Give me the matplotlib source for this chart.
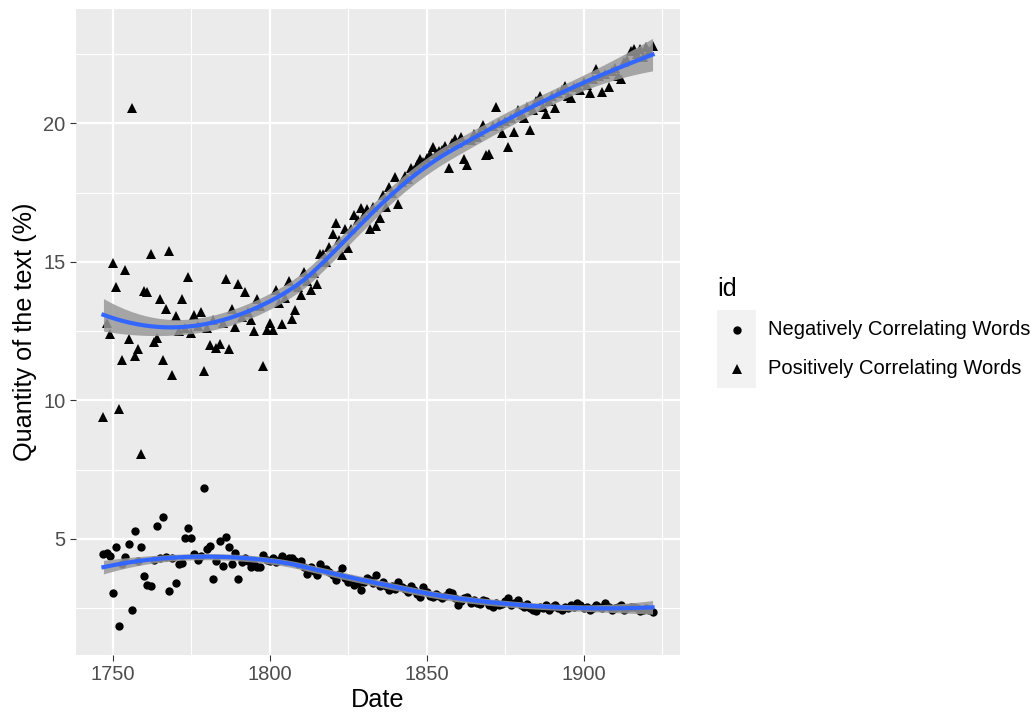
#!/usr/bin/env python3
"""Share of positively and negatively correlating words over time, with loess trends."""

import numpy as np
import matplotlib

matplotlib.use("Agg")
import matplotlib.pyplot as plt
from matplotlib.lines import Line2D
from matplotlib.patches import Rectangle


YEARS = list(range(1747, 1923))

# Positively correlating words, one value per year (1747-1922)
POSITIVE = [
    9.40, 12.80, 12.40, 14.95, 14.10, 9.70, 11.45, 14.70, 12.20, 20.55,
    11.60, 11.85, 8.05, 13.95, 13.90, 15.30, 12.10, 12.25, 13.65, 11.45,
    13.30, 15.40, 10.90, 13.05, 12.50, 13.65, 12.60, 14.45, 12.45, 13.10,
    12.70, 13.20, 11.05, 12.60, 12.00, 12.90, 11.90, 12.05, 12.80, 14.40,
    11.85, 13.30, 12.65, 14.20, 13.00, 13.90, 13.20, 12.90, 12.50, 13.65,
    13.40, 11.25, 12.55, 12.80, 12.55, 14.00, 13.50, 12.75, 13.70, 14.30,
    12.95, 13.25, 14.10, 13.80, 14.65, 14.30, 14.00, 14.60, 14.20, 15.30,
    15.30, 15.00, 15.55, 16.00, 16.40, 15.80, 15.25, 16.20, 15.50, 16.20,
    16.70, 16.50, 16.95, 16.70, 16.90, 16.20, 17.00, 16.30, 16.60, 17.40,
    17.00, 17.70, 17.50, 18.05, 17.10, 17.90, 18.10, 18.00, 18.40, 18.30,
    18.50, 18.70, 18.60, 18.75, 18.90, 19.15, 18.90, 19.00, 19.05, 19.20,
    18.40, 19.30, 19.45, 19.30, 19.50, 18.70, 18.50, 19.40, 19.60, 19.50,
    19.70, 19.95, 18.85, 18.90, 19.90, 20.60, 20.00, 19.65, 20.10, 19.15,
    20.20, 19.70, 20.50, 20.30, 20.20, 20.60, 19.75, 20.50, 20.80, 21.00,
    20.60, 20.35, 20.80, 21.00, 20.55, 21.10, 21.20, 21.35, 21.00, 20.90,
    21.30, 21.30, 21.20, 21.50, 21.40, 21.10, 21.60, 21.95, 21.70, 21.15,
    21.80, 21.30, 21.90, 22.00, 21.70, 21.60, 22.20, 22.30, 22.60, 22.70,
    22.50, 22.70, 22.40, 22.75, 22.60, 22.80,
]

# Negatively correlating words, one value per year (1747-1922)
NEGATIVE = [
    4.45, 4.50, 4.40, 3.05, 4.70, 1.87, 4.10, 4.35, 4.80, 2.45,
    5.30, 4.20, 4.70, 3.65, 3.35, 3.30, 4.25, 5.45, 4.30, 5.80,
    4.35, 3.12, 4.30, 3.42, 4.10, 4.12, 5.05, 5.38, 5.05, 4.47,
    4.25, 4.40, 6.84, 4.65, 4.75, 3.55, 4.20, 4.92, 4.02, 5.07,
    4.72, 4.10, 4.50, 3.55, 4.18, 4.30, 4.20, 4.00, 4.10, 4.00,
    4.00, 4.42, 4.25, 4.20, 4.30, 4.15, 4.25, 4.40, 4.20, 4.30,
    4.30, 4.20, 4.10, 4.20, 4.00, 3.75, 4.00, 3.85, 3.70, 4.10,
    3.90, 3.90, 3.80, 3.70, 3.50, 3.75, 3.95, 3.60, 3.45, 3.55,
    3.35, 3.40, 3.15, 3.45, 3.60, 3.50, 3.40, 3.70, 3.30, 3.45,
    3.30, 3.15, 3.30, 3.20, 3.45, 3.25, 3.20, 3.10, 3.30, 3.15,
    3.00, 2.90, 3.25, 3.10, 2.95, 2.90, 3.00, 2.95, 2.85, 2.95,
    3.10, 3.05, 2.85, 2.60, 2.75, 2.85, 2.90, 2.70, 2.80, 2.70,
    2.65, 2.80, 2.75, 2.60, 2.55, 2.70, 2.60, 2.65, 2.75, 2.85,
    2.60, 2.70, 2.80, 2.60, 2.55, 2.65, 2.50, 2.45, 2.40, 2.55,
    2.50, 2.60, 2.45, 2.55, 2.60, 2.50, 2.45, 2.55, 2.50, 2.60,
    2.55, 2.70, 2.60, 2.50, 2.55, 2.45, 2.50, 2.60, 2.55, 2.50,
    2.70, 2.55, 2.45, 2.50, 2.55, 2.60, 2.45, 2.50, 2.55, 2.55,
    2.50, 2.40, 2.45, 2.50, 2.45, 2.37,
]

SERIES = ["Negatively Correlating Words", "Positively Correlating Words"]
MARKERS = {"Negatively Correlating Words": "o", "Positively Correlating Words": "^"}
X_TICKS = [1750, 1800, 1850, 1900]
Y_TICKS = [5, 10, 15, 20]

PANEL_BG = "#EBEBEB"
SMOOTH_BLUE = "#3366FF"
W, H, DPI = 1034, 712, 150
SMALL_TEXT = 9.7
TITLE_TEXT = 12.1


def loess(x, y, grid, span=0.75):
    """Local quadratic regression (tricube weights) with standard errors."""
    n = len(x)
    q = int(np.floor(n * span))

    def operator_row(x0):
        d = np.abs(x - x0)
        h = np.sort(d)[q - 1]
        u = np.clip(d / h, 0, 1)
        w = (1 - u ** 3) ** 3
        b = np.column_stack([np.ones(n), x - x0, (x - x0) ** 2])
        btw = b.T * w
        return np.linalg.solve(btw @ b, btw)[0]

    L = np.array([operator_row(xi) for xi in x])
    resid = y - L @ y
    m = (np.eye(n) - L).T @ (np.eye(n) - L)
    delta1 = np.trace(m)
    sigma = np.sqrt(resid @ resid / delta1)

    g = np.array([operator_row(x0) for x0 in grid])
    fit = g @ y
    se = sigma * np.sqrt((g ** 2).sum(axis=1))
    return fit, fit - 1.97 * se, fit + 1.97 * se


def px(x, y):
    """Pixel position (from top-left) to figure fraction."""
    return x / W, 1 - y / H


def main():
    plt.rcParams["font.family"] = ["Liberation Sans", "DejaVu Sans"]

    fig = plt.figure(figsize=(W / DPI, H / DPI), dpi=DPI)
    left, top = px(76, 9)
    right, bottom = px(680, 655)
    ax = fig.add_axes([left, bottom, right - left, top - bottom])
    ax.set_facecolor(PANEL_BG)

    years = np.array(YEARS, dtype=float)
    data = {SERIES[0]: np.array(NEGATIVE), SERIES[1]: np.array(POSITIVE)}
    grid = np.linspace(years.min(), years.max(), 80)

    ymin, ymax = np.inf, -np.inf
    for name in SERIES:
        values = data[name]
        size = 4.0 if MARKERS[name] == "o" else 5.2
        ax.plot(years, values, linestyle="none", marker=MARKERS[name],
                markersize=size, color="black", markeredgewidth=0, zorder=2)
        fit, low, high = loess(years, values, grid)
        ax.fill_between(grid, low, high, color="#999999", alpha=0.85,
                        linewidth=0, zorder=3)
        ax.plot(grid, fit, color=SMOOTH_BLUE, linewidth=2.0, zorder=4)
        ymin = min(ymin, values.min(), low.min())
        ymax = max(ymax, values.max(), high.max())

    # ggplot-style 5% expansion of both ranges
    xpad = 0.05 * (years.max() - years.min())
    ypad = 0.05 * (ymax - ymin)
    ax.set_xlim(years.min() - xpad, years.max() + xpad)
    ax.set_ylim(ymin - ypad, ymax + ypad)

    ax.set_xticks(X_TICKS)
    ax.set_yticks(Y_TICKS)
    ax.set_xticks([1775, 1825, 1875, 1925], minor=True)
    ax.set_yticks([2.5, 7.5, 12.5, 17.5, 22.5], minor=True)
    ax.grid(which="major", color="white", linewidth=1.07, zorder=0)
    ax.grid(which="minor", color="white", linewidth=0.53, zorder=0)
    ax.set_axisbelow(True)
    for spine in ax.spines.values():
        spine.set_visible(False)
    ax.tick_params(which="major", length=2.75, width=0.53, color="#333333",
                   labelsize=SMALL_TEXT, labelcolor="#4D4D4D", pad=2.2)
    ax.tick_params(which="minor", length=0)

    ax.set_xlabel("Date", fontsize=TITLE_TEXT, labelpad=2)
    ax.set_ylabel("Quantity of the text (%)", fontsize=TITLE_TEXT, labelpad=3)

    # legend drawn by hand: title, grey key boxes and labels
    fig.text(*px(717, 289), "id", fontsize=TITLE_TEXT, va="center", ha="left")
    for i, name in enumerate(SERIES):
        y0 = 310 + 39 * i
        kx, ky = px(717, y0 + 39)
        fig.patches.append(Rectangle((kx, ky), 39 / W, 39 / H,
                                     transform=fig.transFigure,
                                     facecolor="#F2F2F2", edgecolor="none"))
        cx, cy = px(736.5, y0 + 19.5)
        size = 4.0 if MARKERS[name] == "o" else 5.2
        fig.add_artist(Line2D([cx], [cy], marker=MARKERS[name], markersize=size,
                              color="black", markeredgewidth=0,
                              transform=fig.transFigure))
        lx, ly = px(768, y0 + 19.5)
        fig.text(lx, ly, name, fontsize=SMALL_TEXT, va="center", ha="left")

    fig.savefig("out.png", dpi=DPI)
    plt.close(fig)


if __name__ == "__main__":
    main()
